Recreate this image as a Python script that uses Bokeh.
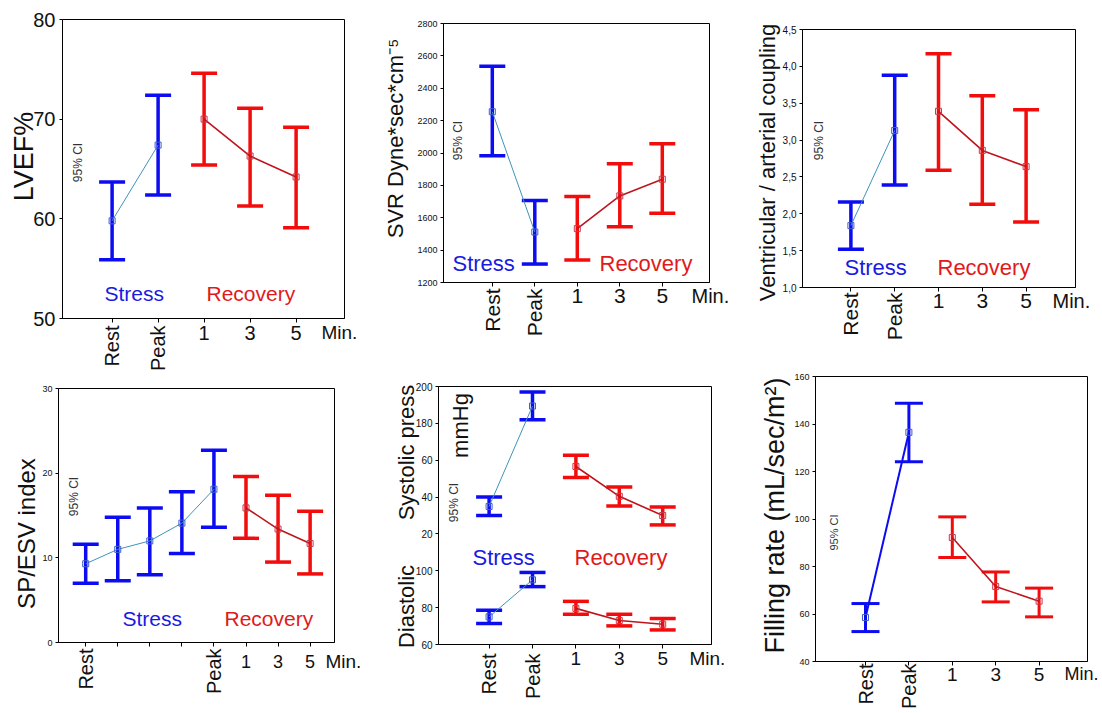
import math
from bokeh.plotting import figure
from bokeh.models import ColumnDataSource, Whisker, TeeHead, Label, FixedTicker, Range1d
from bokeh.layouts import row, column
from bokeh.embed import file_html
from bokeh.resources import INLINE

FONT = "Liberation Sans"

# ------------------------------------------------------------------ data
cats5 = ["Rest", "Peak", "1", "3", "5"]
cats8 = ["Rest", "", "", "", "Peak", "1", "3", "5"]

lvef_mean = [59.8, 67.4, 70.0, 66.3, 64.2]
lvef_lo = [55.9, 62.4, 65.4, 61.3, 59.1]
lvef_hi = [63.7, 72.4, 74.6, 71.1, 69.2]

svr_mean = [2255, 1512, 1533, 1735, 1838]
svr_lo = [1983, 1314, 1339, 1545, 1628]
svr_hi = [2536, 1706, 1731, 1933, 2057]

vac_mean = [1.84, 3.13, 3.39, 2.86, 2.64]
vac_lo = [1.52, 2.39, 2.59, 2.13, 1.89]
vac_hi = [2.16, 3.88, 4.17, 3.60, 3.41]

spesv_mean = [9.3, 11.0, 12.0, 14.1, 18.1, 15.9, 13.4, 11.7]
spesv_lo = [7.0, 7.3, 8.0, 10.5, 13.6, 12.3, 9.5, 8.1]
spesv_hi = [11.6, 14.8, 15.9, 17.8, 22.7, 19.6, 17.4, 15.5]

sys_mean = [134.9, 189.4, 156.6, 140.4, 130.0]
sys_lo = [130.0, 182.0, 150.6, 135.1, 124.9]
sys_hi = [140.0, 197.0, 162.7, 145.4, 134.6]
dia_mean = [75.0, 95.1, 79.6, 73.0, 71.0]
dia_lo = [71.4, 91.4, 76.4, 70.1, 67.9]
dia_hi = [78.6, 99.1, 83.4, 76.4, 74.1]

fr_mean = [58.5, 136.5, 92.2, 71.6, 65.4]
fr_lo = [52.6, 124.1, 83.8, 65.1, 58.8]
fr_hi = [64.4, 148.7, 100.9, 77.7, 70.9]

lvef_ticks = [50, 60, 70, 80]
svr_ticks = [1200, 1400, 1600, 1800, 2000, 2200, 2400, 2600, 2800]
vac_ticks = [1.0, 1.5, 2.0, 2.5, 3.0, 3.5, 4.0, 4.5]
vac_tick_labels = ["1,0", "1,5", "2,0", "2,5", "3,0", "3,5", "4,0", "4,5"]
spesv_ticks = [0, 10, 20, 30]
bp_ticks = [60, 80, 100, 120, 140, 160, 180, 200]
bp_tick_labels = ["60", "80", "100", "20", "40", "60", "180", "200"]
fr_ticks = [40, 60, 80, 100, 120, 140, 160]

# ------------------------------------------------------------------ style
BAR_BLUE = "#0c0cf2"
BAR_RED = "#f20c0c"
LINE_TEAL = "#3f93bb"
LINE_RED = "#c0141c"
MK_BLUE = "#3d5fc4"
MK_RED = "#c43c4c"
TXT_BLUE = "#1a1ae0"
TXT_RED = "#e01a1a"
INK = "#111111"


def make_panel(cfg, cats, n_stress, series, yticks, ylabels=None):
    ox, oy, W, H = cfg["box"]
    fx0, fx1, fy0, fy1 = cfg["frame"]
    first, step = cfg["xfit"]
    xs, xe = (fx0 - first) / step, (fx1 - first) / step
    ys, ye = cfg["yrange"]
    kx = (xe - xs) / (fx1 - fx0)
    ky = (ye - ys) / (fy1 - fy0)

    def DX(px):
        return xs + (px - fx0) * kx

    def DY(py):
        return ye - (py - fy0) * ky

    p = figure(width=W, height=H,
               x_range=Range1d(DX(ox), DX(ox + W)), y_range=Range1d(DY(oy + H), DY(oy)),
               min_border=0, output_backend="svg", toolbar_location=None)
    p.grid.visible = False
    p.outline_line_color = None
    p.background_fill_color = "white"
    p.border_fill_color = "white"

    # axes drawn at the edges of the plotting box
    for ax in p.axis:
        ax.axis_line_color = "black"
        ax.major_tick_line_color = "black"
        ax.minor_tick_line_color = None
        ax.major_tick_in = 0
        ax.major_label_text_font = FONT
        ax.major_label_text_color = INK
    p.yaxis.fixed_location = xs
    p.yaxis.bounds = (ys, ye)
    p.xaxis.fixed_location = ys
    p.xaxis.bounds = (xs, xe)

    p.yaxis.ticker = FixedTicker(ticks=yticks)
    p.yaxis.major_tick_out = 3
    p.yaxis.major_label_standoff = cfg["ystand"]
    p.yaxis.major_label_text_font_size = f"{cfg['ytick_font']}px"
    if ylabels is not None:
        p.yaxis.major_label_overrides = {t: l for t, l in zip(yticks, ylabels)}
    n = len(cats)
    xpos = list(range(n))
    p.xaxis.ticker = FixedTicker(ticks=xpos)
    p.xaxis.major_tick_out = 4
    p.xaxis.major_label_standoff = cfg["xstand"]
    p.xaxis.major_label_text_font_size = f"{cfg['xtick_font']}px"
    p.xaxis.major_label_overrides = {i: ("" if c in ("Rest", "Peak") else c) for i, c in enumerate(cats)}

    # top and right edges of the box
    p.quad(left=[xs], right=[xe], bottom=[ys], top=[ye], fill_color=None,
           line_color="black", line_width=1)

    # error bars, lines, markers
    for mean, lo, hi in series:
        for sl, bc, lc, mc, lw in ((slice(0, n_stress), BAR_BLUE, cfg["stress_line"], MK_BLUE, cfg["stress_lw"]),
                                   (slice(n_stress, n), BAR_RED, LINE_RED, MK_RED, 1.6)):
            src = ColumnDataSource(dict(x=xpos[sl], m=mean[sl], lo=lo[sl], hi=hi[sl]))
            p.add_layout(Whisker(base="x", lower="lo", upper="hi", source=src, dimension="height",
                                 line_color=bc, line_width=cfg["bar_w"],
                                 lower_head=TeeHead(size=cfg["cap"], line_color=bc, line_width=cfg["bar_w"]),
                                 upper_head=TeeHead(size=cfg["cap"], line_color=bc, line_width=cfg["bar_w"])))
            p.line("x", "m", source=src, line_color=lc, line_width=lw)
            p.scatter("x", "m", source=src, marker="square", size=6, fill_color=None,
                      line_color=mc, line_width=1)

    def add_text(x, y, text, size, color=INK, angle=0.0, align="left", baseline="middle"):
        p.add_layout(Label(x=x, y=y, text=text, text_font=FONT,
                           text_font_size=f"{size}px", text_color=color, angle=angle,
                           text_align=align, text_baseline=baseline))

    for txt, cx, cy, fs in cfg["titles"]:
        add_text(DX(cx), DY(cy), txt, fs, angle=math.pi / 2, align="center")
    cx, cy, fs = cfg["ci"]
    add_text(DX(cx), DY(cy), "95% CI", fs, color="#333333", angle=math.pi / 2, align="center")
    if cfg.get("stress"):
        lx, cy, fs = cfg["stress"]
        add_text(DX(lx), DY(cy), "Stress", fs, color=TXT_BLUE)
        lx, cy, fs = cfg["recovery"]
        add_text(DX(lx), DY(cy), "Recovery", fs, color=TXT_RED)
    top_y, fs = cfg["rp"]
    for i, c in enumerate(cats):
        if c in ("Rest", "Peak"):
            add_text(i, DY(top_y), c, fs, angle=math.pi / 2, align="right")
    lx, fs = cfg["min"]
    add_text(DX(lx), DY(fy1 + cfg["xstand"]), "Min.", fs, baseline="top")
    return p


base = dict(stress_line=LINE_TEAL, stress_lw=1, bar_w=3.5, cap=26, ystand=3)

cfg1 = dict(base, box=(0, 0, 368, 372), frame=(62, 344, 19, 318), xfit=(111.6, 46.0), yrange=(50, 80),
            ytick_font=20, xtick_font=20, xstand=3, ystand=4,
            titles=[("LVEF%", 23, 156, 27)], ci=(77, 162, 12),
            stress=(104, 293, 21), recovery=(206, 293, 21), rp=(325, 20), min=(321, 19))
cfg2 = dict(base, box=(368, 0, 367, 372), frame=(443, 709, 23, 282), xfit=(491.8, 42.5), yrange=(1200, 2800),
            ytick_font=9, xtick_font=21, xstand=2,
            titles=[("SVR Dyne*sec*cm\u207b\u2075", 395, 138, 22)], ci=(457, 140, 12),
            stress=(452, 263, 22), recovery=(599, 263, 22), rp=(288, 21), min=(691, 20))
cfg3 = dict(base, box=(735, 0, 365, 372), frame=(802, 1075, 29, 287), xfit=(850.4, 43.8), yrange=(1.0, 4.5),
            ytick_font=10, xtick_font=21, xstand=2,
            titles=[("Ventricular / arterial coupling", 767, 162, 22)], ci=(818, 140, 12),
            stress=(844, 267, 22), recovery=(937, 267, 22), rp=(292, 21), min=(1052, 20))
cfg4 = dict(base, box=(0, 372, 370, 339), frame=(58, 334, 388, 642), xfit=(85.2, 32.06), yrange=(0, 30),
            ytick_font=9, xtick_font=18, xstand=8,
            titles=[("SP/ESV index", 26, 533, 24)], ci=(73, 496, 12),
            stress=(122, 618, 21), recovery=(224, 618, 21), rp=(648, 20), min=(325, 19))
cfg5 = dict(base, box=(370, 372, 365, 339), frame=(438, 711, 386, 644), xfit=(488.6, 43.4), yrange=(60, 200),
            ytick_font=10, xtick_font=19, xstand=3,
            titles=[("Systolic press", 406, 452, 22), ("mmHg", 460, 425, 22), ("Diastolic", 406, 606, 22)],
            ci=(453, 502, 12),
            stress=(472, 557, 22), recovery=(574, 557, 22), rp=(653, 20), min=(689, 19))
cfg6 = dict(base, box=(735, 372, 365, 339), frame=(815, 1087, 376, 661), xfit=(865.0, 43.4), yrange=(40, 160),
            ytick_font=9, xtick_font=19, xstand=2, stress_line=BAR_BLUE, stress_lw=2, bar_w=3, cap=28,
            titles=[("Filling rate (mL/sec/m\u00b2)", 774, 515, 27)], ci=(833, 532, 11),
            rp=(663, 20), min=(1064, 18))

p1 = make_panel(cfg1, cats5, 2, [(lvef_mean, lvef_lo, lvef_hi)], lvef_ticks)
p2 = make_panel(cfg2, cats5, 2, [(svr_mean, svr_lo, svr_hi)], svr_ticks)
p3 = make_panel(cfg3, cats5, 2, [(vac_mean, vac_lo, vac_hi)], vac_ticks, vac_tick_labels)
p4 = make_panel(cfg4, cats8, 5, [(spesv_mean, spesv_lo, spesv_hi)], spesv_ticks)
p5 = make_panel(cfg5, cats5, 2, [(sys_mean, sys_lo, sys_hi), (dia_mean, dia_lo, dia_hi)], bp_ticks, bp_tick_labels)
p6 = make_panel(cfg6, cats5, 2, [(fr_mean, fr_lo, fr_hi)], fr_ticks)

layout = column(row(p1, p2, p3), row(p4, p5, p6))
open("out.html", "w").write(file_html(layout, INLINE))
